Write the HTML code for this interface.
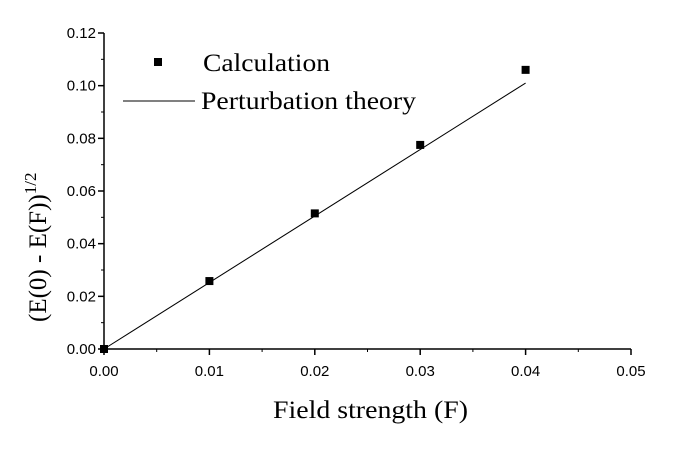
<!DOCTYPE html>
<html><head><meta charset="utf-8"><style>
body{margin:0;background:#fff;}
svg{display:block;}
</style></head><body>
<svg id="chart" width="689" height="453" xmlns="http://www.w3.org/2000/svg">
<g id="axes"></g>
<g id="marks"></g>
<text x="273" y="418" textLength="195" lengthAdjust="spacingAndGlyphs" font-family="Liberation Serif, serif" font-size="25">Field strength (F)</text>
<text transform="translate(46,322) rotate(-90)" font-family="Liberation Serif, serif" font-size="25">(E(0) - E(F))<tspan dy="-10" font-size="17">1/2</tspan></text>
<g font-family="Liberation Serif, serif" font-size="25">
<rect x="154" y="58" width="8" height="8" fill="#000"/>
<text x="203" y="71" textLength="127" lengthAdjust="spacingAndGlyphs">Calculation</text>
<line x1="123" y1="101" x2="195" y2="101" stroke="#000" stroke-width="1"/>
<text x="201" y="109" textLength="215" lengthAdjust="spacingAndGlyphs">Perturbation theory</text>
</g>
</svg>
<script>
const xTicks=[0,0.01,0.02,0.03,0.04,0.05];
const yTicks=[0,0.02,0.04,0.06,0.08,0.10,0.12];
const calcX=[0,0.01,0.02,0.03,0.04];
const calcY=[0,0.0258,0.0515,0.0775,0.106];
const theoryX=[0,0.04];
const theoryY=[0,0.101];
const X0=104,X1=631,Y0=349,Y1=33;
const xs=v=>X0+(v-0)/(0.05)*(X1-X0);
const ys=v=>Y0-(v-0)/(0.12)*(Y0-Y1);
const NS="http://www.w3.org/2000/svg";
function mk(t,a,p){const e=document.createElementNS(NS,t);for(const k in a)e.setAttribute(k,a[k]);p.appendChild(e);return e;}
const ax=document.getElementById('axes'),mg=document.getElementById('marks');
let e=mk('line',{x1:X0,y1:Y0,x2:X1,y2:Y0,stroke:'#000','stroke-width':1.5},ax);


e=mk('line',{x1:X0,y1:Y0,x2:X0,y2:Y1,stroke:'#000','stroke-width':1.5},ax);


xTicks.forEach((v,i)=>{const x=xs(v);
 let t=mk('line',{x1:x,y1:Y0,x2:x,y2:Y0+6,stroke:'#000','stroke-width':1.5},ax);
 
 
 if(i<xTicks.length-1){const m=xs(v+0.005);let mt=mk('line',{x1:m,y1:Y0,x2:m,y2:Y0+3,stroke:'#000'},ax);
 
 }
 let l=mk('text',{x:x,y:Y0+27,'text-anchor':'middle','font-family':'Liberation Sans, sans-serif','font-size':15},ax);
 l.textContent=v.toFixed(2);
 
 });
yTicks.forEach((v,i)=>{const y=ys(v);
 let t=mk('line',{x1:X0-6,y1:y,x2:X0,y2:y,stroke:'#000','stroke-width':1.5},ax);
 
 
 if(i<yTicks.length-1){const m=ys(v+0.01);let mt=mk('line',{x1:X0-3,y1:m,x2:X0,y2:m,stroke:'#000'},ax);
 
 }
 let l=mk('text',{x:X0-8,y:y+5,'text-anchor':'end','font-family':'Liberation Sans, sans-serif','font-size':15},ax);
 l.textContent=v.toFixed(2);
 
 });
let ln=mk('line',{x1:xs(theoryX[0]),y1:ys(theoryY[0]),x2:xs(theoryX[1]),y2:ys(theoryY[1]),stroke:'#000','stroke-width':1},mg);


calcX.forEach((v,i)=>{let r=mk('rect',{x:xs(v)-4,y:ys(calcY[i])-4,width:8,height:8,fill:'#000'},mg);
 
 });
</script>
</body></html>
